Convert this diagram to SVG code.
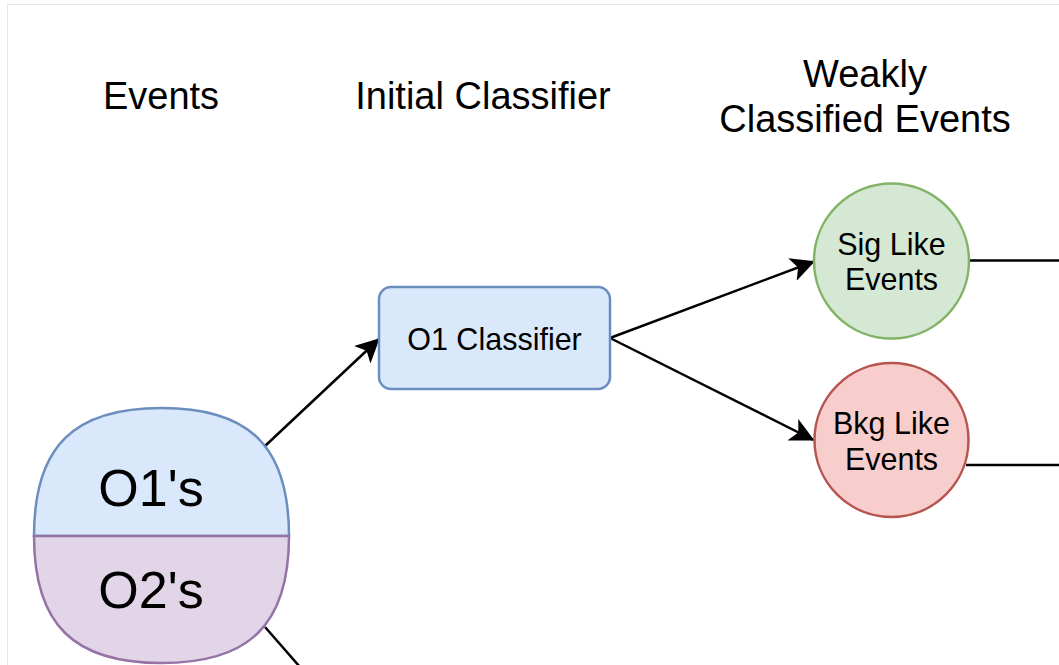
<svg xmlns="http://www.w3.org/2000/svg" width="1059" height="665" viewBox="0 0 1059 665">
  <style>
    .title { font-family: "Liberation Sans", Arial, sans-serif; font-size: 38px; fill: #000; text-anchor: middle; }
    .lbl { font-family: "Liberation Sans", Arial, sans-serif; font-size: 30.5px; fill: #000; text-anchor: middle; }
    .big { font-family: "Liberation Sans", Arial, sans-serif; font-size: 52px; fill: #000; text-anchor: middle; }
    .edge { fill: none; stroke: #000; stroke-width: 2.5; }
  </style>
  <defs>
    <marker id="arrow" markerUnits="userSpaceOnUse" markerWidth="24" markerHeight="24" refX="23" refY="12" orient="auto" viewBox="0 0 24 24">
      <path d="M0,0 L24,12 L0,24 L6,12 Z" fill="#000"/>
    </marker>
  </defs>
  <rect x="0" y="0" width="1059" height="665" fill="#fff"/>
  <rect x="7.5" y="4.5" width="1100" height="700" fill="none" stroke="#e6e6e6" stroke-width="1"/>

  <g id="titles">
    <text class="title" x="161" y="109">Events</text>
    <text class="title" x="483" y="109">Initial Classifier</text>
    <text class="title" x="865" y="86.7">Weakly</text>
    <text class="title" x="865" y="131.7">Classified Events</text>
  </g>

  <g id="connectors">
    <line class="edge" x1="265" y1="446" x2="379" y2="339" marker-end="url(#arrow)"/>
    <line class="edge" x1="610" y1="338" x2="814" y2="261.5" marker-end="url(#arrow)"/>
    <line class="edge" x1="610" y1="338" x2="813.5" y2="440" marker-end="url(#arrow)"/>
    <line class="edge" x1="969" y1="260.5" x2="1062" y2="260.5"/>
    <line class="edge" x1="966" y1="465" x2="1062" y2="465"/>
    <line class="edge" x1="265" y1="627" x2="300" y2="667"/>
  </g>

  <g id="events">
    <path d="M34,536 C34,445 75,408 161.5,408 C248,408 289,445 289,536 Z" fill="#dae8fc" stroke="#6c8ebf" stroke-width="2.5"/>
    <path d="M34,536 C34,626 75,663 161.5,663 C248,663 289,626 289,536 Z" fill="#e1d5e7" stroke="#9673a6" stroke-width="2.5"/>
    <text class="big" x="151" y="506">O1's</text>
    <text class="big" x="151" y="608">O2's</text>
  </g>

  <g id="o1-classifier">
    <rect x="379" y="287" width="231" height="102" rx="12" ry="12" fill="#dae8fc" stroke="#6c8ebf" stroke-width="2.5"/>
    <text class="lbl" x="494.5" y="349.5">O1 Classifier</text>
  </g>

  <g id="sig-like">
    <circle cx="891.5" cy="261" r="77.5" fill="#d5e8d4" stroke="#82b366" stroke-width="2.5"/>
    <text class="lbl" x="891.5" y="254.5">Sig Like</text>
    <text class="lbl" x="891.5" y="290">Events</text>
  </g>

  <g id="bkg-like">
    <circle cx="891.5" cy="440" r="77" fill="#f8cecc" stroke="#b85450" stroke-width="2.5"/>
    <text class="lbl" x="891.5" y="434">Bkg Like</text>
    <text class="lbl" x="891.5" y="469.5">Events</text>
  </g>
</svg>
